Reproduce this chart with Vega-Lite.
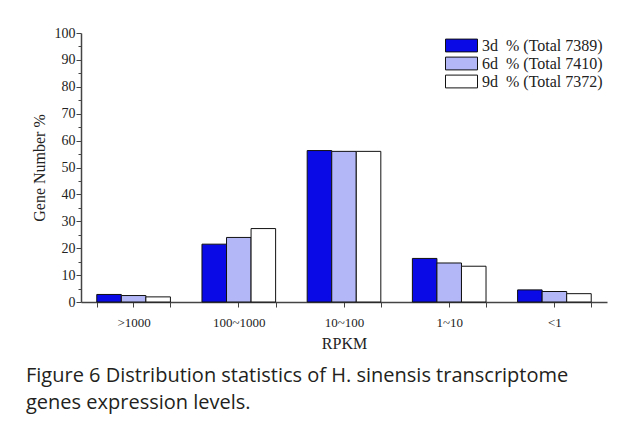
{
  "$schema": "https://vega.github.io/schema/vega-lite/v6.json",
  "width": 526,
  "height": 269,
  "autosize": "none",
  "padding": {"left": 81, "top": 33, "right": 20, "bottom": 122},
  "background": "white",
  "config": {"view": {"stroke": null}, "font": "Liberation Serif"},
  "title": {
    "text": ["Figure 6 Distribution statistics of H. sinensis transcriptome", "genes expression levels."],
    "orient": "bottom",
    "anchor": "start",
    "frame": "group",
    "dx": -55,
    "offset": 15,
    "font": "Open Sans",
    "fontSize": 20,
    "fontWeight": "normal",
    "lineHeight": 27,
    "color": "#231f20"
  },
  "data": {
    "values": [
      {"rpkm": ">1000", "series": "3d\u00a0\u00a0% (Total 7389)", "pct": 2.8},
      {"rpkm": ">1000", "series": "6d\u00a0\u00a0% (Total 7410)", "pct": 2.4},
      {"rpkm": ">1000", "series": "9d\u00a0\u00a0% (Total 7372)", "pct": 1.9},
      {"rpkm": "100~1000", "series": "3d\u00a0\u00a0% (Total 7389)", "pct": 21.5},
      {"rpkm": "100~1000", "series": "6d\u00a0\u00a0% (Total 7410)", "pct": 24.0},
      {"rpkm": "100~1000", "series": "9d\u00a0\u00a0% (Total 7372)", "pct": 27.3},
      {"rpkm": "10~100", "series": "3d\u00a0\u00a0% (Total 7389)", "pct": 56.3},
      {"rpkm": "10~100", "series": "6d\u00a0\u00a0% (Total 7410)", "pct": 56.0},
      {"rpkm": "10~100", "series": "9d\u00a0\u00a0% (Total 7372)", "pct": 56.0},
      {"rpkm": "1~10", "series": "3d\u00a0\u00a0% (Total 7389)", "pct": 16.2},
      {"rpkm": "1~10", "series": "6d\u00a0\u00a0% (Total 7410)", "pct": 14.5},
      {"rpkm": "1~10", "series": "9d\u00a0\u00a0% (Total 7372)", "pct": 13.3},
      {"rpkm": "<1", "series": "3d\u00a0\u00a0% (Total 7389)", "pct": 4.5},
      {"rpkm": "<1", "series": "6d\u00a0\u00a0% (Total 7410)", "pct": 3.9},
      {"rpkm": "<1", "series": "9d\u00a0\u00a0% (Total 7372)", "pct": 3.1}
    ]
  },
  "encoding": {
    "y": {
      "field": "pct", "type": "quantitative",
      "scale": {"domain": [0, 100], "nice": false},
      "axis": {
        "title": "Gene Number %", "titleFont": "Liberation Serif", "titleFontSize": 16, "titleFontWeight": "normal", "titleColor": "#222", "titlePadding": 7,
        "values": [0,5,10,15,20,25,30,35,40,45,50,55,60,65,70,75,80,85,90,95,100],
        "labelExpr": "datum.value % 10 === 0 ? datum.label : ''",
        "labelFont": "Liberation Serif", "labelFontSize": 14, "labelColor": "#222", "labelPadding": 1,
        "tickSize": {"condition": {"test": "datum.value % 10 === 0", "value": 5}, "value": 3},
        "tickColor": "#444", "domainColor": "#444", "domainWidth": 1.5, "grid": false
      }
    }
  },
  "layer": [
    {
      "mark": {"type": "bar", "stroke": "#111", "strokeWidth": 1},
      "encoding": {
        "x": {
          "field": "rpkm", "type": "nominal", "sort": null,
          "scale": {"paddingInner": 0.3, "paddingOuter": 0.15},
          "axis": {
            "title": "RPKM", "titleFont": "Liberation Serif", "titleFontSize": 16, "titleFontWeight": "normal", "titleColor": "#222", "titlePadding": 6,
            "labelAngle": 0, "labelFont": "Liberation Serif", "labelFontSize": 13, "labelColor": "#222", "labelPadding": 9,
            "tickBand": "extent", "tickSize": 5, "tickColor": "#444", "domainColor": "#444", "domainWidth": 1.5
          }
        },
        "xOffset": {"field": "series", "type": "nominal", "scale": {"paddingInner": 0}},
        "fill": {
          "field": "series", "type": "nominal",
          "scale": {"range": ["#0a0ae6", "#b3b7f7", "#ffffff"]},
          "legend": {
            "title": null, "orient": "top-right", "offset": 4,
            "symbolType": "M-2,-0.8 h4 v1.6 h-4 Z", "symbolSize": 256,
            "symbolStrokeColor": "#111", "symbolStrokeWidth": 1,
            "labelFont": "Liberation Serif", "labelFontSize": 16, "labelColor": "#222",
            "rowPadding": 1, "labelOffset": 12
          }
        }
      }
    },
    {
      "mark": {"type": "bar", "opacity": 0},
      "encoding": {
        "x": {
          "field": "rpkm", "type": "nominal", "sort": null,
          "scale": {"paddingInner": 0.3, "paddingOuter": 0.15},
          "axis": {"orient": "bottom", "title": null, "labels": false, "domain": false, "tickSize": 5, "tickWidth": 1, "tickColor": "#444"}
        }
      }
    }
  ],
  "resolve": {"axis": {"x": "independent"}}
}
